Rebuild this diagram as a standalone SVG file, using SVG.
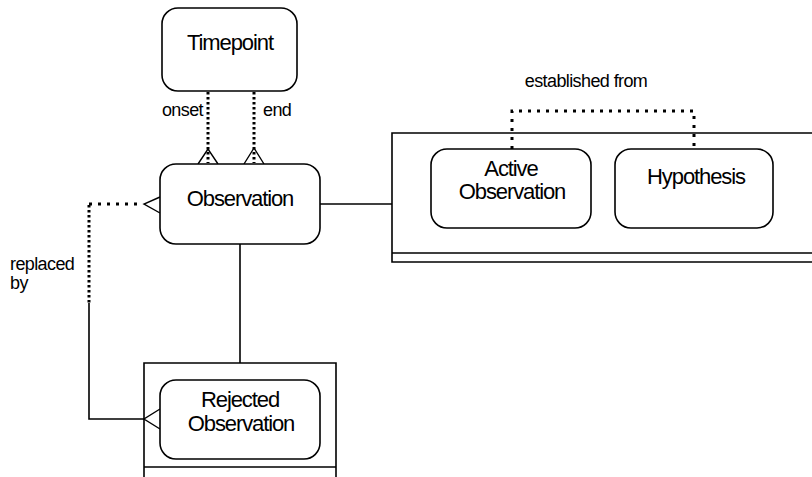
<svg xmlns="http://www.w3.org/2000/svg" width="812" height="477" viewBox="0 0 812 477">
<style>
.bg{fill:#fff}
.ent{fill:#fff;stroke:#000;stroke-width:1.6}
.frame{fill:none;stroke:#000;stroke-width:1.6}
.solid{fill:none;stroke:#000;stroke-width:1.6}
.dotv{fill:none;stroke:#000;stroke-width:3;stroke-dasharray:2.5 2.5}
.doth{fill:none;stroke:#000;stroke-width:3;stroke-dasharray:3 6}
.crow{fill:none;stroke:#000;stroke-width:1.4}
.big{font-family:"Liberation Sans",Arial,sans-serif;font-size:22px;letter-spacing:-1.1px;text-anchor:middle;fill:#000}
.small{font-family:"Liberation Sans",Arial,sans-serif;font-size:18px;letter-spacing:-0.6px;fill:#000}
</style>
<rect class="bg" x="0" y="0" width="812" height="477"/>
<g id="connectors">
  <path class="dotv" d="M208,92 V163"/>
  <path class="crow" d="M198,164 L208,149 L218,164"/>
  <path class="dotv" d="M254,92 V163"/>
  <path class="crow" d="M244,164 L254,148 L264,164"/>
  <path class="doth" d="M512,149 V111 H694 V149"/>
  <path class="solid" d="M320,204 H392"/>
  <path class="solid" d="M240,244 V363"/>
  <path class="doth" d="M89,204 H140"/>
  <path class="dotv" d="M89,205 V303"/>
  <path class="solid" d="M89,303 V419 H144"/>
  <path class="crow" d="M160,197 L144,204 L160,213"/>
  <path class="crow" d="M160,409 L144,419 L160,429"/>
</g>
<g id="labels">
  <text class="small" x="203" y="116" text-anchor="end">onset</text>
  <text class="small" x="263" y="116">end</text>
  <text class="small" x="586" y="87" text-anchor="middle">established from</text>
  <text class="small" x="10" y="270">replaced</text>
  <text class="small" x="10" y="289">by</text>
</g>
<g id="observation-subtypes">
  <path class="frame" d="M820,133 H392 V262 H820 M392,253 H820"/>
</g>
<g id="rejected-frame">
  <path class="frame" d="M144,480 V363 H336 V480 M144,467 H336"/>
</g>
<g id="timepoint">
  <rect class="ent" x="162" y="8" width="135" height="83" rx="16"/>
  <text class="big" x="230" y="50">Timepoint</text>
</g>
<g id="observation">
  <rect class="ent" x="160" y="164" width="160" height="80" rx="16"/>
  <text class="big" x="240" y="206">Observation</text>
</g>
<g id="active-observation">
  <rect class="ent" x="431" y="149" width="160" height="79" rx="16"/>
  <text class="big" x="511" y="176">Active</text>
  <text class="big" x="512" y="199">Observation</text>
</g>
<g id="hypothesis">
  <rect class="ent" x="615" y="149" width="158" height="79" rx="16"/>
  <text class="big" x="696" y="184">Hypothesis</text>
</g>
<g id="rejected-observation">
  <rect class="ent" x="160" y="380" width="160" height="79" rx="16"/>
  <text class="big" x="240" y="407">Rejected</text>
  <text class="big" x="241" y="431">Observation</text>
</g>
</svg>
